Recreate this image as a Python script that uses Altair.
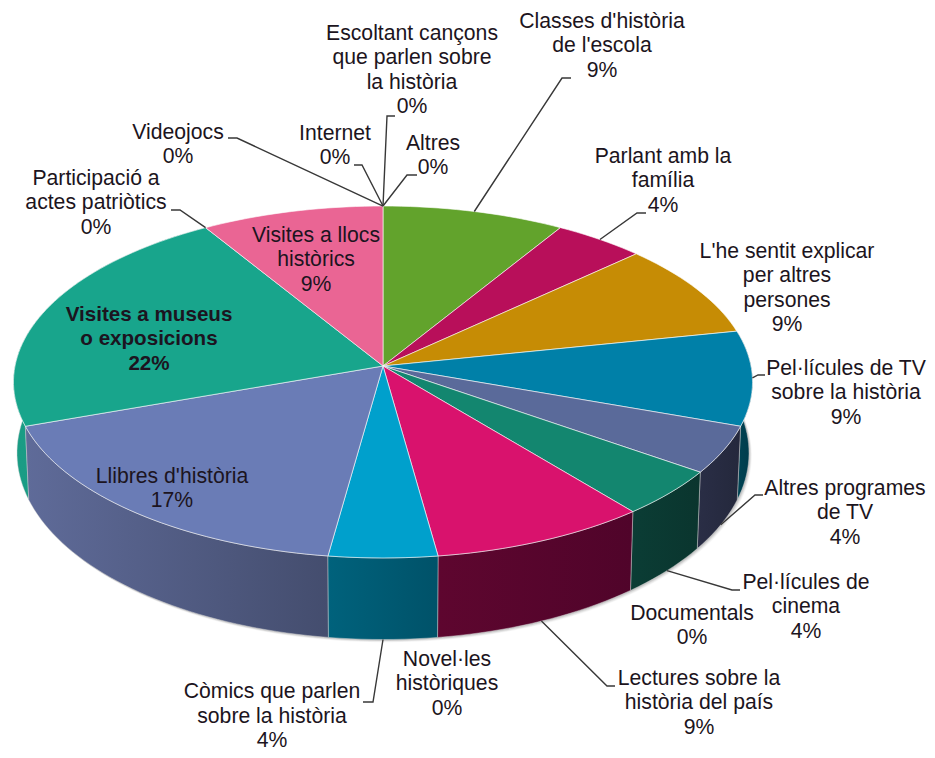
import math
import altair as alt

# ---- chart values -------------------------------------------------------
names = ["Classes d'història\nde l'escola", "Parlant amb la\nfamília",
         "L'he sentit explicar\nper altres\npersones", "Pel·lícules de TV\nsobre la història",
         "Altres programes\nde TV", "Pel·lícules de\ncinema", "Documentals",
         "Lectures sobre la\nhistòria del país", "Novel·les\nhistòriques",
         "Còmics que parlen\nsobre la història", "Llibres d'història",
         "Visites a museus\no exposicions", "Participació a\nactes patriòtics",
         "Visites a llocs\nhistòrics", "Videojocs", "Internet",
         "Escoltant cançons\nque parlen sobre\nla història", "Altres"]
counts = [2, 1, 2, 2, 1, 1, 0, 2, 0, 1, 4, 5, 0, 2, 0, 0, 0, 0]
percents = ["9%", "4%", "9%", "9%", "4%", "4%", "0%", "9%", "0%", "4%", "17%", "22%", "0%", "9%", "0%", "0%", "0%", "0%"]
top_colors = ["#62a32c", "#b80f5a", "#c68c05", "#0080a8", "#5a6a9a", "#13866f", "#000000",
              "#d9126d", "#000000", "#00a0cc", "#6a7cb6", "#18a58c", "#000000", "#ea6594",
              "#000000", "#000000", "#000000", "#000000"]
wall_left = {3: "#004656", 4: "#2a2e46", 5: "#0b3d35", 7: "#5e062f", 9: "#00627c", 10: "#5f6b99", 11: "#1a9c85"}
wall_right = {3: "#003a4a", 4: "#24283c", 5: "#0a352e", 7: "#50042a", 9: "#005269", 10: "#444d6e", 11: "#189a80"}

# ---- layout -------------------------------------------------------------
PAGE_W, PAGE_H = 919, 742
CX, CY, RX, RY, K = 383, 366, 368, 174.5, 0.0909
BX, BY, BRX, BRY = 383, 436, 364.5, 185
LINE_H = 24.5
FONT = "Liberation Sans"
FS = 21.2
# label centre x, y of first line
label_pos = [(602, 21.5), (663, 156.5), (787, 251.5), (846, 368.5), (845, 488.5), (806, 582.5), (692, 613.5),
             (699, 678.5), (447, 659.5), (272, 692), (172, 476.5), (149, 314.5), (96, 178.5), (316, 235.5),
             (178, 132.5), (335, 133.5), (412, 33.5), (433, 143.5)]
# leader: on the wall rim?, elbow and end
leaders = {0: (False, [(562, 78), (571, 78)]), 1: (False, [(637, 213), (646, 213)]),
           3: (False, [(758, 375), (765, 375)]), 4: (True, [(755, 495), (763, 495)]),
           5: (True, [(732, 590), (740, 590)]), 7: (True, [(607, 686), (615, 686)]),
           9: (True, [(373, 702), (363, 702)]), 12: (False, [(180, 210), (171, 210)]),
           14: (False, [(237, 138), (228, 138)]), 15: (False, [(362, 165), (354, 165)]),
           16: (False, [(387, 116), (395, 116)]), 17: (False, [(407, 175), (417, 175)])}


def ring(theta, bottom=False):
    X, Y = math.sin(theta), math.cos(theta)
    w = 1 + K * Y
    if bottom:
        return BX + BRX * X / w, BY - BRY * Y / w
    return CX + RX * X / w, CY - RY * Y / w


total = sum(counts)
edges = [0]
for c in counts:
    edges.append(edges[-1] + c)
angles = [2 * math.pi * e / total for e in edges]


def arc(a0, a1, bottom=False):
    n = max(2, int(abs(a1 - a0) / math.radians(1.5)))
    return [ring(a0 + (a1 - a0) * i / n, bottom) for i in range(n + 1)]


def rows(pts):
    return [{"x": p[0], "y": p[1], "i": i} for i, p in enumerate(pts)]


xs = alt.X("x:Q", axis=None, scale=alt.Scale(domain=[8, 8 + PAGE_W], nice=False, zero=False))
ys = alt.Y("y:Q", axis=None, scale=alt.Scale(domain=[8 + PAGE_H, 8], nice=False, zero=False))


def poly(pts, fill, stroke=None, sw=1.0, sop=1.0, op=1.0):
    kw = dict(interpolate="linear-closed", fill=fill, opacity=op)
    if stroke:
        kw.update(stroke=stroke, strokeWidth=sw, strokeOpacity=sop)
    else:
        kw.update(strokeOpacity=0)
    return alt.Chart(alt.Data(values=rows(pts))).mark_line(**kw).encode(x=xs, y=ys, order="i:Q")


layers = []

# soft shadow round the base
whole = arc(0, 2 * math.pi, True)
for d, op in [(4.5, 0.05), (3.5, 0.07), (2.5, 0.1), (1.5, 0.14)]:
    layers.append(poly([(x + d * 0.6, y + d * 0.6) for x, y in whole], "#555555", op=op))

# walls, back to front
for s in [11, 3, 4, 5, 10, 7, 9]:
    a0, a1 = angles[s], angles[s + 1]
    pts = arc(a0, a1) + arc(a1, a0, True)
    grad = alt.Gradient(gradient="linear", x1=0, x2=1, y1=0, y2=0,
                        stops=[alt.GradientStop(color=wall_left[s], offset=0),
                               alt.GradientStop(color=wall_right[s], offset=1)])
    layers.append(poly(pts, grad, stroke="#d8d8d8", sw=0.8, sop=0.55))

# top faces
for s, c in enumerate(counts):
    if c:
        pts = [(CX, CY)] + arc(angles[s], angles[s + 1])
        layers.append(poly(pts, top_colors[s], stroke="#ffffff", sw=1.0, sop=0.6))


# leaders
for s, (on_wall, tail) in leaders.items():
    mid = (angles[s] + angles[s + 1]) / 2
    pts = [ring(mid, on_wall)] + tail
    layers.append(alt.Chart(alt.Data(values=rows(pts))).mark_line(color="#383838", strokeWidth=1.4)
                  .encode(x=xs, y=ys, order="i:Q"))

# labels
text_rows = []
for s, (nm, pc) in enumerate(zip(names, percents)):
    lx, ly = label_pos[s]
    for j, t in enumerate(nm.split("\n") + [pc]):
        text_rows.append({"x": lx, "y": ly + j * LINE_H, "t": t, "b": s == 11})
for bold, wt in [(False, "normal"), (True, "bold")]:
    layers.append(alt.Chart(alt.Data(values=[r for r in text_rows if r["b"] == bold]))
                  .mark_text(font=FONT, fontSize=FS if not bold else 20.6, fontWeight=wt, color="#1c1420",
                             align="center", baseline="middle")
                  .encode(x=xs, y=ys, text="t:N"))

chart = alt.layer(*layers).properties(
    width=PAGE_W, height=PAGE_H, padding=0,
    autosize=alt.AutoSizeParams(type="none"),
    background="white",
).configure_view(stroke=None)

chart.save("out.html", embed_options={"renderer": "svg", "actions": False})
